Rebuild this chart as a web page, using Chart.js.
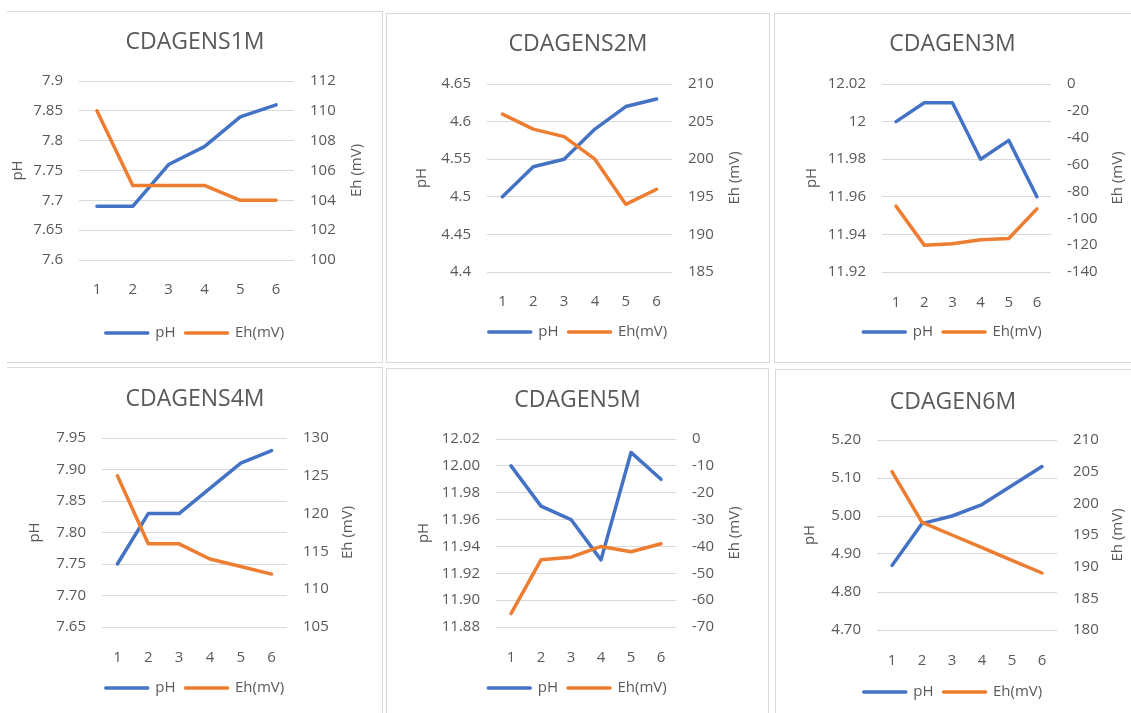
<!DOCTYPE html>
<html lang="en">
<head>
<meta charset="UTF-8">
<title>pH and Eh by sample</title>
<script src="https://cdn.jsdelivr.net/npm/chart.js"></script>
<style>
    body {
        margin: 0;
        background-color: #ffffff;
        font-family: 'Open Sans', sans-serif;
    }
    .frame {
        position: absolute;
        box-sizing: border-box;
        border: 0 solid #d9d9d9;
    }
    canvas {
        position: absolute;
    }
</style>
</head>
<body>
<div id="root"></div>
<script>
    // sample numbers on the category axis
    const samples = ['1', '2', '3', '4', '5', '6'];
    const titles = ['CDAGENS1M', 'CDAGENS2M', 'CDAGEN3M', 'CDAGENS4M', 'CDAGEN5M', 'CDAGEN6M'];

    // pH series
    const ph1 = [7.69, 7.69, 7.76, 7.79, 7.84, 7.86];
    const ph2 = [4.50, 4.54, 4.55, 4.59, 4.62, 4.63];
    const ph3 = [12.00, 12.01, 12.01, 11.98, 11.99, 11.96];
    const ph4 = [7.75, 7.83, 7.83, 7.87, 7.91, 7.93];
    const ph5 = [12.00, 11.97, 11.96, 11.93, 12.01, 11.99];
    const ph6 = [4.87, 4.98, 5.00, 5.03, 5.08, 5.13];

    // Eh (mV) series
    const eh1 = [110, 105, 105, 105, 104, 104];
    const eh2 = [206, 204, 203, 200, 194, 196];
    const eh3 = [-91, -120, -119, -116, -115, -93];
    const eh4 = [125, 116, 116, 114, 113, 112];
    const eh5 = [-65, -45, -44, -40, -42, -39];
    const eh6 = [205, 197, 195, 193, 191, 189];

    // axis ranges: [min, max, step]
    const phAxes = [[7.6, 7.9, 0.05], [4.4, 4.65, 0.05], [11.92, 12.02, 0.02],
                    [7.65, 7.95, 0.05], [11.88, 12.02, 0.02], [4.7, 5.2, 0.1]];
    const ehAxes = [[100, 112, 2], [185, 210, 5], [-140, 0, 20],
                    [105, 130, 5], [-70, 0, 10], [180, 210, 5]];
    // pH tick labels: trimmed (Excel "General") or two decimals
    const phFixed = [false, false, false, true, true, true];

    const phSeries = [ph1, ph2, ph3, ph4, ph5, ph6];
    const ehSeries = [eh1, eh2, eh3, eh4, eh5, eh6];

    // page layout for each panel (absolute pixels)
    const layouts = [
        { box: [7, 11, 376, 352], sides: [1, 1, 1, 0], plot: [79, 81, 294, 260], titleY: 42, xLabY: 282, legendY: 333, phX: 18, ehX: 357 },
        { box: [386, 13, 384, 350], sides: [1, 1, 1, 1], plot: [487, 84, 672, 272], titleY: 44, xLabY: 294, legendY: 332, phX: 422, ehX: 735 },
        { box: [774, 13, 357, 350], sides: [1, 0, 1, 1], plot: [882, 84, 1051, 272], titleY: 44, xLabY: 295, legendY: 332, phX: 812, ehX: 1118 },
        { box: [7, 367, 376, 346], sides: [1, 1, 0, 0], plot: [102, 438, 287, 627], titleY: 399, xLabY: 650, legendY: 688, phX: 35, ehX: 348 },
        { box: [386, 368, 383, 345], sides: [1, 1, 0, 1], plot: [496, 439, 676, 627], titleY: 400, xLabY: 650, legendY: 688, phX: 424, ehX: 735 },
        { box: [775, 369, 356, 344], sides: [1, 0, 0, 1], plot: [877, 440, 1057, 630], titleY: 402, xLabY: 653, legendY: 692, phX: 810, ehX: 1118 }
    ];

    const BLUE = '#4472c4';
    const ORANGE = '#ed7d31';
    const TEXT = '#595959';

    Chart.defaults.font.family = "'Open Sans', sans-serif";
    Chart.defaults.color = TEXT;

    // right axis title reads bottom-to-top like Excel
    const ehTitle = {
        id: 'ehTitle',
        afterDraw(chart, args, opts) {
            const ctx = chart.ctx;
            const area = chart.chartArea;
            ctx.save();
            ctx.translate(opts.x, (area.top + area.bottom) / 2);
            ctx.rotate(-Math.PI / 2);
            ctx.textAlign = 'center';
            ctx.textBaseline = 'middle';
            ctx.font = "15px 'Open Sans', sans-serif";
            ctx.fillStyle = TEXT;
            ctx.fillText('Eh (mV)', 0, 0);
            ctx.restore();
        }
    };

    const root = document.getElementById('root');

    layouts.forEach((lay, i) => {
        const [x, y, w, h] = lay.box;
        const frame = document.createElement('div');
        frame.className = 'frame';
        frame.style.left = x + 'px';
        frame.style.top = y + 'px';
        frame.style.width = w + 'px';
        frame.style.height = h + 'px';
        frame.style.borderTopWidth = lay.sides[0] + 'px';
        frame.style.borderRightWidth = lay.sides[1] + 'px';
        frame.style.borderBottomWidth = lay.sides[2] + 'px';
        frame.style.borderLeftWidth = lay.sides[3] + 'px';
        root.appendChild(frame);

        const canvas = document.createElement('canvas');
        canvas.width = w;
        canvas.height = h;
        canvas.style.left = x + 'px';
        canvas.style.top = y + 'px';
        root.appendChild(canvas);

        const L = lay.plot[0] - x, T = lay.plot[1] - y, R = lay.plot[2] - x, B = lay.plot[3] - y;
        const titleMid = lay.titleY - y;
        const titleLine = 23 * 1.2;
        const legendTop = lay.legendY - y - 17.5;
        const padBottom = h - legendTop - 35;
        const xAxisH = legendTop - B;
        const xPad = lay.xLabY - y - B - 9;

        const [phMin, phMax, phStep] = phAxes[i];
        const [ehMin, ehMax, ehStep] = ehAxes[i];

        new Chart(canvas.getContext('2d'), {
            type: 'line',
            data: {
                labels: samples,
                datasets: [{
                    label: 'pH',
                    data: phSeries[i],
                    borderColor: BLUE,
                    backgroundColor: BLUE,
                    borderWidth: 3.5,
                    borderJoinStyle: 'round',
                    borderCapStyle: 'round',
                    pointRadius: 0,
                    tension: 0,
                    yAxisID: 'y',
                    order: 2
                }, {
                    label: 'Eh(mV)',
                    data: ehSeries[i],
                    borderColor: ORANGE,
                    backgroundColor: ORANGE,
                    borderWidth: 3.5,
                    borderJoinStyle: 'round',
                    borderCapStyle: 'round',
                    pointRadius: 0,
                    tension: 0,
                    yAxisID: 'y1',
                    order: 1
                }]
            },
            options: {
                responsive: false,
                animation: false,
                layout: { padding: { left: 0, right: 0, top: 0, bottom: padBottom } },
                plugins: {
                    title: {
                        display: true,
                        text: titles[i],
                        color: TEXT,
                        font: { size: 23, weight: 'normal', lineHeight: 1.2 },
                        padding: { top: titleMid - titleLine / 2, bottom: T - titleMid - titleLine / 2 }
                    },
                    legend: {
                        position: 'bottom',
                        labels: {
                            boxWidth: 42,
                            boxHeight: 0,
                            padding: 10,
                            color: TEXT,
                            font: { size: 15 },
                            sort: (a, b) => a.datasetIndex - b.datasetIndex
                        }
                    },
                    tooltip: { enabled: false },
                    ehTitle: { x: lay.ehX - x }
                },
                scales: {
                    x: {
                        offset: true,
                        grid: { display: false },
                        border: { display: false },
                        ticks: { padding: xPad, font: { size: 15 } },
                        afterFit: s => { s.height = xAxisH; }
                    },
                    y: {
                        position: 'left',
                        min: phMin,
                        max: phMax,
                        ticks: {
                            stepSize: phStep,
                            padding: 16,
                            font: { size: 15 },
                            callback: v => phFixed[i] ? v.toFixed(2) : String(+v.toFixed(2))
                        },
                        grid: { color: '#d9d9d9', drawTicks: false },
                        border: { display: false },
                        title: {
                            display: true,
                            text: 'pH',
                            font: { size: 15 },
                            padding: { top: lay.phX - x - 9, bottom: 0 }
                        },
                        afterFit: s => { s.width = L; }
                    },
                    y1: {
                        position: 'right',
                        min: ehMin,
                        max: ehMax,
                        ticks: {
                            stepSize: ehStep,
                            padding: 16,
                            font: { size: 15 },
                            callback: v => String(Math.round(v))
                        },
                        grid: { display: false, drawTicks: false },
                        border: { display: false },
                        afterFit: s => { s.width = w - R; }
                    }
                }
            },
            plugins: [ehTitle]
        });
    });
</script>
</body>
</html>
